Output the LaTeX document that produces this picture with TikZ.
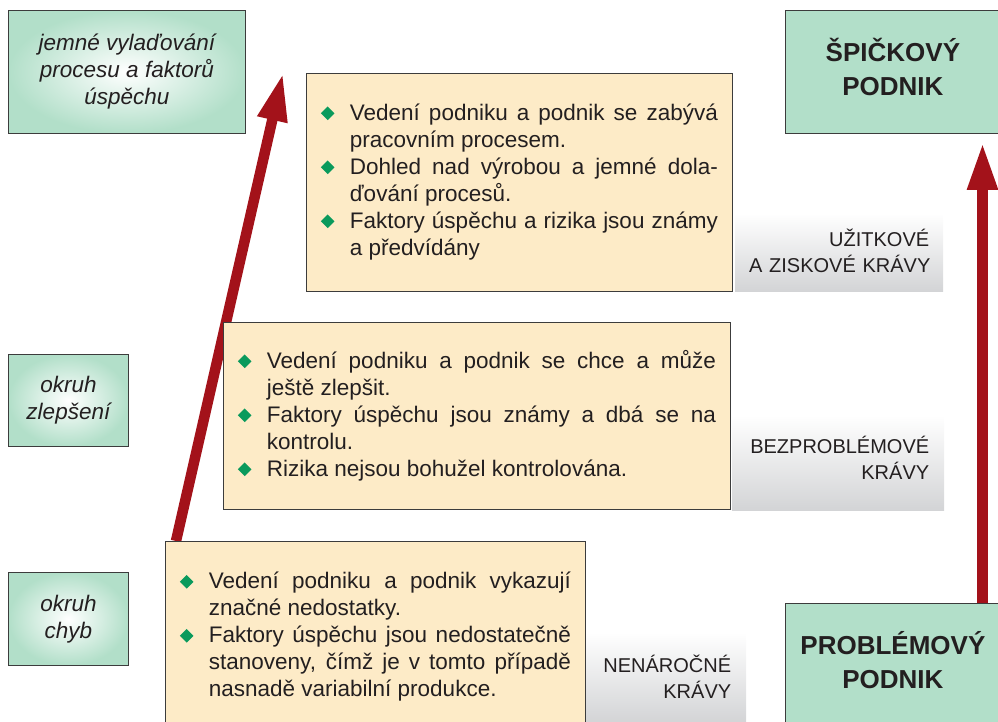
\documentclass[tikz,border=0pt]{standalone}
\usepackage{fontspec}
\setmainfont{Liberation Sans}
\usetikzlibrary{arrows.meta,calc,backgrounds}
\definecolor{mint}{HTML}{B2DFC9}
\definecolor{cream}{HTML}{FDEBC7}
\definecolor{arrowred}{HTML}{A3121A}
\definecolor{bgreen}{HTML}{0A9A5C}
\definecolor{txt}{HTML}{231F20}
\definecolor{lgray}{HTML}{D3D4D6}
\definecolor{bord}{HTML}{3C3C3C}
\hyphenpenalty=10000
\exhyphenpenalty=10000
\newcommand\bitem{\par\noindent\hangindent=29pt\hangafter=1\makebox[29pt][l]{\textcolor{bgreen}{\rotatebox{45}{\rule{9.6pt}{9.6pt}}}}}
\newcommand\upby[1]{\par\kern#1}
\tikzset{
  ybox/.style={draw=bord, line width=0.8pt, fill=cream, inner xsep=14.5pt, inner ysep=0pt,
    align=justify, anchor=north west, text=txt, font=\fontsize{22.5}{27}\selectfont},
  lbox/.style={draw=bord, line width=0.8pt, inner color=white, outer color=mint, anchor=north west,
    align=center, text=txt, font=\fontsize{22.5}{27}\selectfont\itshape},
  rbox/.style={draw=bord, line width=0.8pt, fill=mint, anchor=north west, inner xsep=5pt, inner ysep=0pt,
    text width=205pt, align=center, text=txt, font=\fontsize{26}{34}\selectfont\bfseries},
  gbox/.style={top color=white, bottom color=lgray, anchor=north west, inner ysep=0pt,
    align=right, text=txt, font=\fontsize{20}{26}\selectfont},
  redarrow/.style={draw=arrowred, line width=11pt, -{Triangle[length=48pt,width=28pt]}}
}
\begin{document}
\begin{tikzpicture}[x=1pt,y=-1pt]
\useasboundingbox (0,0) rectangle (998,722);
% left boxes
\node[lbox, minimum width=237pt, minimum height=123pt] (l1) at (8,10) {jemné vylaďování\\procesu a faktorů\\úspěchu};
\node[lbox, minimum width=120pt, minimum height=92pt] (l2) at (8,354) {okruh\\zlepšení};
\node[lbox, minimum width=120pt, minimum height=93pt] (l3) at (8,572) {okruh\\chyb};
% right boxes
\node[rbox, minimum height=123pt] (r1) at (785,10) {ŠPIČKOVÝ\\PODNIK\upby{9pt}};
\node[rbox, minimum height=121pt] (r2) at (785,603) {PROBLÉMOVÝ\\PODNIK\upby{8pt}};
% gray labels
\node[gbox, text width=180pt, inner xsep=14pt, minimum height=78pt] (g1) at (735,213) {UŽITKOVÉ\\A~ZISKOVÉ~KRÁVY\upby{3pt}};
\node[gbox, text width=182pt, inner xsep=15pt, minimum height=95pt] (g2) at (732,415) {BEZPROBLÉMOVÉ\\KRÁVY\upby{9pt}};
\node[gbox, text width=130pt, inner xsep=15pt, minimum height=90pt] (g3) at (586,632) {NENÁROČNÉ\\KRÁVY};
% yellow boxes
\node[ybox, text width=397pt, minimum height=218pt] (y1) at (306,73) {%
\bitem Vedení podniku a podnik se zabývá \linebreak pracovním procesem.
\bitem Dohled nad výrobou a jemné dola-\linebreak ďování procesů.
\bitem Faktory úspěchu a rizika jsou známy \linebreak a předvídány\upby{12pt}};
\node[ybox, text width=478pt, minimum height=187pt] (y2) at (223,322) {%
\bitem Vedení podniku a podnik se chce a může \linebreak ještě zlepšit.
\bitem Faktory úspěchu jsou známy a dbá se na \linebreak kontrolu.
\bitem Rizika nejsou bohužel kontrolována.\upby{10pt}};
\node[ybox, text width=391pt, minimum height=186pt] (y3) at (165,541) {%
\bitem Vedení podniku a podnik vykazují \linebreak značné nedostatky.
\bitem Faktory úspěchu jsou nedostatečně \linebreak stanoveny, čímž je v tomto případě \linebreak nasnadě variabilní produkce.\upby{6pt}};
% arrows
\begin{pgfonlayer}{background}
\coordinate (t1) at (283,73);
\coordinate (t2) at (982.5,142);
\draw[redarrow, line width=10.5pt] ($(y3.north west)+(11pt,0pt)$) -- (t1);
\draw[redarrow] ($(r2.north west)+(197.5pt,0pt)$) -- (t2);
\end{pgfonlayer}
\end{tikzpicture}
\end{document}
